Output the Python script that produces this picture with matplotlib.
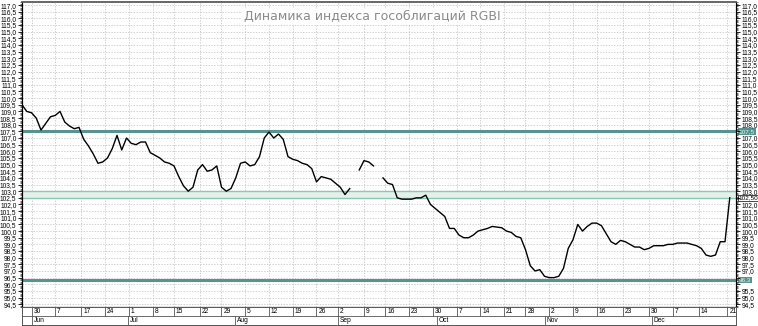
import numpy as np
import matplotlib
matplotlib.use("Agg")
from matplotlib import pyplot as plt

# RGBI index, one value per trading day (NaN = no quote)
rgbi = [
    109.5, 109.0, 108.9, 108.5, 107.6, 108.1, 108.6, 108.7, 109.0, 108.2,
    107.9, 107.7, 107.8, 106.9, 106.4, 105.8, 105.1, 105.2, 105.5, 106.2,
    107.2, 106.1, 107.0, 106.6, 106.5, 106.7, 106.7, 105.9, 105.7, 105.5,
    105.2, 105.1, 104.9, 104.1, 103.4, 103.0, 103.3, 104.6, 105.0, 104.5,
    104.6, 104.9, 103.3, 103.0, 103.2, 104.0, 105.1, 105.2, 104.9, 105.0,
    105.6, 107.0, 107.45, 107.0, 107.3, 106.9, 105.6, 105.4, 105.3, 105.1,
    105.0, 104.7, 103.7, 104.1, 104.0, 103.9, 103.6, 103.3, 102.75, 103.2,
    np.nan, 104.6, 105.3, 105.2, 104.9, np.nan, 104.0, 103.6, 103.5, 102.5,
    102.4, 102.4, 102.4, 102.5, 102.5, 102.7, 102.0, 101.7, 101.4, 101.1,
    100.2, 100.2, 99.7, 99.5, 99.5, 99.7, 100.0, 100.1, 100.2, 100.35,
    100.3, 100.25, 100.0, 99.9, 99.6, 99.5, 98.6, 97.4, 97.0, 97.1,
    96.6, 96.5, 96.5, 96.6, 97.2, 98.7, 99.35, 100.5, 100.0, 100.35,
    100.6, 100.6, 100.4, 99.8, 99.2, 99.0, 99.3, 99.2, 99.0, 98.8,
    98.8, 98.6, 98.7, 98.9, 98.9, 98.9, 99.0, 99.0, 99.1, 99.1,
    99.1, 99.0, 98.9, 98.7, 98.2, 98.1, 98.2, 99.2, 99.2, 102.5,
]

# weekly ticks (trading-day index) and their labels
week_pos = [2, 7, 12.5, 17.5, 22.5, 27.5, 32, 37.5, 42, 47, 52, 57, 62, 66.5, 72,
            76.5, 81.5, 86.5, 91.5, 96.5, 101.5, 106, 111, 116, 121, 126.5, 132,
            137, 142.5, 148.5]
week_labels = ["30", "7", "17", "24", "1", "8", "15", "22", "29", "5", "12", "19",
               "26", "2", "9", "16", "23", "30", "7", "14", "21", "28", "2", "9",
               "16", "23", "30", "7", "14", "21"]
month_pos = [2, 22.3, 44.8, 66.5, 87.4, 110.1, 132.6]
month_labels = ["Jun", "Jul", "Aug", "Sep", "Oct", "Nov", "Dec"]

resistance = 107.5
band_low, band_high = 102.5, 103.0
support = 96.3
last_label = "102,50"

title = "Динамика индекса гособлигаций RGBI"

W, H = 758, 326
fig = plt.figure(figsize=(W / 100, H / 100), dpi=100)
fig.patch.set_facecolor("white")

x0, x1 = 22, 736
ytop, ybot = 2, 307
ax = fig.add_axes([x0 / W, (H - ybot) / H, (x1 - x0) / W, (ybot - ytop) / H])
xmax = (x1 - x0) / 4.75
ylim = (94.29, 117.23)
ax.set_xlim(0, xmax)
ax.set_ylim(*ylim)

grid_kw = dict(color="#bdbdbd", lw=0.5, ls=(0, (2, 2)), zorder=0)
for yv in np.arange(94.5, 117.01, 0.5):
    ax.axhline(yv, **grid_kw)
for xv in week_pos:
    ax.axvline(xv, **grid_kw)

teal = "#55948f"
ax.axhline(resistance, color=teal, lw=2.2, zorder=2)
ax.axhspan(band_low, band_high, color="#e2f2ea", zorder=1)
ax.axhline(band_low, color="#8ec6b6", lw=1.0, zorder=2)
ax.axhline(band_high, color="#8ec6b6", lw=1.0, zorder=2)
ax.axhline(support, color=teal, lw=2.2, zorder=2)

days = np.arange(len(rgbi))
ax.plot(days, rgbi, color="black", lw=1.0, zorder=3)

ax.text(0.49, 0.951, title, transform=ax.transAxes, ha="center", va="center",
        fontsize=9, color="#8a8a8a", zorder=4,
        bbox=dict(facecolor="white", edgecolor="none", pad=1))

fmt = lambda v: f"{v:.1f}".replace(".", ",")
yt = np.arange(94.5, 117.01, 0.5)
minor_t = np.arange(94.3, 117.2, 0.1)

ax.set_yticks(yt)
ax.set_yticklabels([fmt(v) for v in yt])
ax.set_yticks(minor_t, minor=True)
ax.tick_params(axis="y", which="major", length=3, width=0.6, pad=1,
               labelsize=4.8, direction="out")
ax.tick_params(axis="y", which="minor", length=1.5, width=0.4)
for lab in ax.get_yticklabels():
    lab.set_family("Liberation Sans")
ax.set_xticks([])

# right axis: the highlighted levels cover their own tick labels
rax = ax.twinx()
rax.set_ylim(*ylim)
hidden = [resistance, band_low, 96.5, 96.0]
rax.set_yticks(yt)
rax.set_yticklabels(["" if any(abs(v - h) < 1e-6 for h in hidden) else fmt(v)
                     for v in yt])
rax.set_yticks(minor_t, minor=True)
rax.tick_params(axis="y", which="major", length=3, width=0.6, pad=1,
                labelsize=4.8, direction="out")
rax.tick_params(axis="y", which="minor", length=1.5, width=0.4)
for lab in rax.get_yticklabels():
    lab.set_family("Liberation Sans")

for a in (ax, rax):
    for side in ["left", "right", "bottom"]:
        a.spines[side].set_color("black")
        a.spines[side].set_linewidth(0.8)
    a.spines["top"].set_color("#666666")
    a.spines["top"].set_linewidth(1.2)

# highlighted price labels on the right axis
lab_kw = dict(transform=ax.get_yaxis_transform(), ha="left", va="center",
              fontsize=4.6, family="Liberation Sans", zorder=5, clip_on=False)
ax.text(1.004, resistance, fmt(resistance), color="#e4f4f2",
        bbox=dict(facecolor=teal, edgecolor="none", pad=0.5), **lab_kw)
ax.text(1.004, support, fmt(support), color="#e4f4f2",
        bbox=dict(facecolor=teal, edgecolor="none", pad=0.5), **lab_kw)
ax.text(1.004, band_low, last_label, color="black",
        bbox=dict(facecolor="white", edgecolor="black", lw=0.5, pad=0.4), **lab_kw)

# date strip under the chart
sax = fig.add_axes([x0 / W, (H - 325) / H, (x1 - x0) / W, (325 - 307) / H])
sax.set_xlim(0, xmax)
sax.set_ylim(0, 2)
sax.set_xticks([])
sax.set_yticks([])
for sp in sax.spines.values():
    sp.set_linewidth(0.7)
    sp.set_color("#555555")
sax.axhline(1, color="#555555", lw=0.6)
for p, t in zip(week_pos, week_labels):
    sax.plot([p, p], [1, 2], color="#555555", lw=0.6)
    sax.text(p + 0.4, 1.5, t, ha="left", va="center", fontsize=4.8,
             family="Liberation Sans")
for p, t in zip(month_pos, month_labels):
    sax.plot([p, p], [0, 1], color="#555555", lw=0.6)
    sax.text(p + 0.4, 0.5, t, ha="left", va="center", fontsize=4.8,
             family="Liberation Sans")

fig.savefig("out.png", dpi=100)
